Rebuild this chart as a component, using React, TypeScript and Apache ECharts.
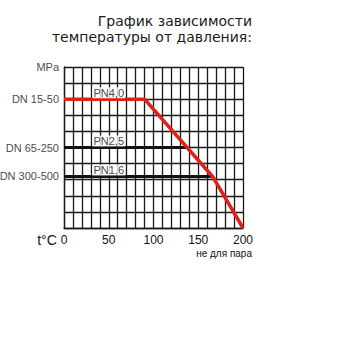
import React, { useEffect, useRef } from "react";
import * as echarts from "echarts";

const titleLines = ["График зависимости", "температуры от давления:"];
const xTicks = [0, 50, 100, 150, 200];
const redCurve: [number, number][] = [[0, 4.0], [90, 4.0], [166, 1.6], [200, 0]];
const pn25Line: [number, number][] = [[0, 2.5], [138, 2.5]];
const pn16Line: [number, number][] = [[0, 1.6], [166, 1.6]];
const dnLabels: [number, number, string][] = [
  [0, 5.0, "MPa"],
  [0, 4.0, "DN 15-50"],
  [0, 2.5, "DN 65-250"],
  [0, 1.6, "DN 300-500"],
];
const pnLabels: [number, number, string][] = [
  [50, 4.0, "PN4,0"],
  [50, 2.5, "PN2,5"],
  [50, 1.6, "PN1,6"],
];
const xName = "t°C";
const footNote = "не для пара";

const FONT = "Liberation Sans, Arial, sans-serif";
const TITLE_FONT = "DejaVu Sans, sans-serif";

export default function App() {
  const ref = useRef<HTMLDivElement>(null);
  useEffect(() => {
    const chart = echarts.init(ref.current!, null, { renderer: "svg" });
    chart.setOption({
      animation: false,
      backgroundColor: "#ffffff",
      grid: { left: 64, top: 67, width: 179, height: 161, containLabel: false },
      xAxis: {
        type: "value",
        min: 0,
        max: 200,
        interval: 10,
        name: xName,
        nameLocation: "start",
        nameGap: 7,
        nameTextStyle: { fontFamily: FONT, fontSize: 14, color: "#111", verticalAlign: "top", padding: [5, 0, 0, 0] },
        axisLine: { show: true, lineStyle: { color: "#1a1a1a", width: 1.3 } },
        axisTick: { show: false },
        splitLine: { show: true, lineStyle: { color: "#1a1a1a", width: 1.3 } },
        axisLabel: {
          fontFamily: FONT,
          fontSize: 12,
          color: "#111",
          margin: 6,
          formatter: (v: number) => (xTicks.includes(v) ? String(v) : ""),
        },
      },
      yAxis: {
        type: "value",
        min: 0,
        max: 5,
        interval: 0.5,
        axisLine: { show: true, lineStyle: { color: "#1a1a1a", width: 1.3 } },
        axisTick: { show: false },
        axisLabel: { show: false },
        splitLine: { show: true, lineStyle: { color: "#1a1a1a", width: 1.3 } },
      },
      graphic: [
        {
          type: "text",
          x: 252,
          y: 13.5,
          style: {
            text: titleLines.join("\n"),
            font: `14px ${TITLE_FONT}`,
            fill: "#1a1a1a",
            align: "right",
            lineHeight: 15.5,
          },
        },
        {
          type: "text",
          x: 252,
          y: 253,
          style: { text: footNote, font: `10px ${FONT}`, fill: "#111", align: "right", verticalAlign: "middle" },
        },
      ],
      series: [
        {
          type: "line",
          data: pn25Line,
          symbol: "none",
          lineStyle: { color: "#111", width: 3 },
          z: 3,
        },
        {
          type: "line",
          data: pn16Line,
          symbol: "none",
          lineStyle: { color: "#111", width: 3 },
          z: 3,
        },
        {
          type: "line",
          data: redCurve,
          symbol: "none",
          lineStyle: { color: "#e0201b", width: 3.5 },
          z: 4,
        },
        {
          type: "scatter",
          data: dnLabels,
          symbolSize: 0,
          z: 5,
          label: {
            show: true,
            position: "left",
            distance: 5,
            fontFamily: FONT,
            fontSize: 11,
            color: "#111",
            formatter: (p: any) => p.data[2],
          },
        },
        {
          type: "scatter",
          data: pnLabels,
          symbolSize: 0,
          z: 5,
          label: {
            show: true,
            position: "top",
            distance: 1,
            fontFamily: FONT,
            fontSize: 11,
            color: "#111",
            backgroundColor: "#ffffff",
            padding: [0, 1, 0, 1],
            formatter: (p: any) => p.data[2],
          },
        },
      ],
    });
    return () => chart.dispose();
  }, []);
  return (
    <div
      ref={ref}
      style={{ position: "fixed", left: 0, top: 0, width: 356, height: 339 }}
    />
  );
}
